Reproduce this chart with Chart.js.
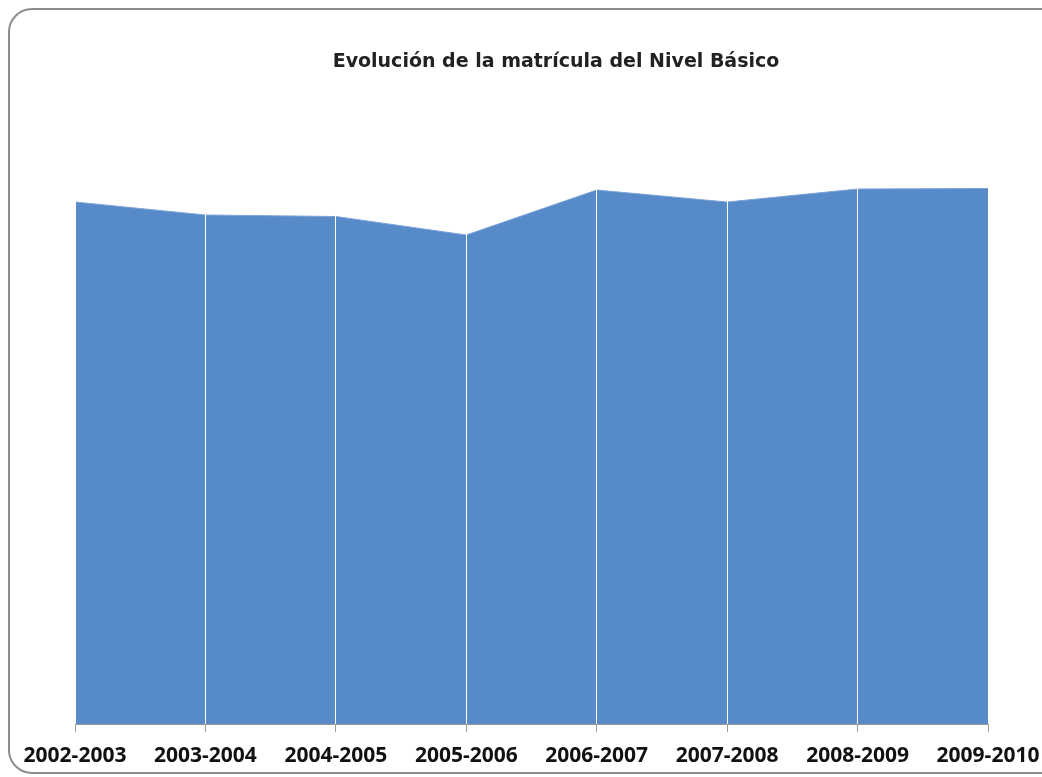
<!DOCTYPE html>
<html>
<head>
<meta charset="utf-8">
<script src="https://cdn.jsdelivr.net/npm/chart.js@4/dist/chart.umd.min.js"></script>
<style>
  html, body { margin: 0; padding: 0; background: #fff; overflow: hidden; }
  #wrap { position: relative; width: 1042px; height: 777px; }
  #frame { position: absolute; left: 8px; top: 8px; width: 1060px; height: 766px;
           border: 2px solid #8c8c8c; border-radius: 24px; box-sizing: border-box; pointer-events: none; }
  canvas { position: absolute; left: 0; top: 0; }
</style>
</head>
<body>
<div id="wrap">
  <div id="frame"></div>
  <canvas id="c" width="1042" height="777"></canvas>
</div>
<script>
const chartTitle = 'Evolución de la matrícula del Nivel Básico';
const categories = ['2002-2003', '2003-2004', '2004-2005', '2005-2006', '2006-2007', '2007-2008', '2008-2009', '2009-2010'];
const matricula = [522, 509, 507.5, 489, 534, 522, 535, 535.5];
const yMin = 0;
const yMax = 600;

const titlePlugin = {
  id: 'customTitle',
  afterDraw(chart) {
    const ctx = chart.ctx;
    ctx.save();
    ctx.font = 'bold 19px "DejaVu Sans"';
    ctx.fillStyle = '#222222';
    ctx.textAlign = 'center';
    ctx.textBaseline = 'middle';
    ctx.fillText(chartTitle, 556, 62);
    ctx.restore();
  }
};

new Chart(document.getElementById('c'), {
  type: 'line',
  data: {
    labels: categories,
    datasets: [{
      data: matricula,
      fill: 'origin',
      backgroundColor: '#568AC8',
      borderColor: '#7ea3d6',
      borderWidth: 1,
      pointRadius: 0,
      tension: 0
    }]
  },
  options: {
    responsive: false,
    animation: false,
    events: [],
    layout: { padding: { left: 75, right: 54, top: 124, bottom: 0 } },
    plugins: { legend: { display: false }, tooltip: { enabled: false }, title: { display: false } },
    scales: {
      x: {
        type: 'category',
        offset: false,
        afterFit(scale) { scale.paddingLeft = 0; scale.paddingRight = 0; scale.height = 53; },
        grid: { display: true, z: 1, color: '#ffffff', lineWidth: 1, drawTicks: true, tickLength: 8, tickColor: '#9a9a9a' },
        border: { display: true, z: 1, color: '#9a9a9a', width: 1 },
        ticks: { color: '#111111', font: { family: '"Open Sans"', size: 21, weight: 'bold' }, padding: 11, maxRotation: 0, autoSkip: false }
      },
      y: {
        display: false,
        min: yMin,
        max: yMax
      }
    }
  },
  plugins: [titlePlugin]
});
</script>
</body>
</html>
